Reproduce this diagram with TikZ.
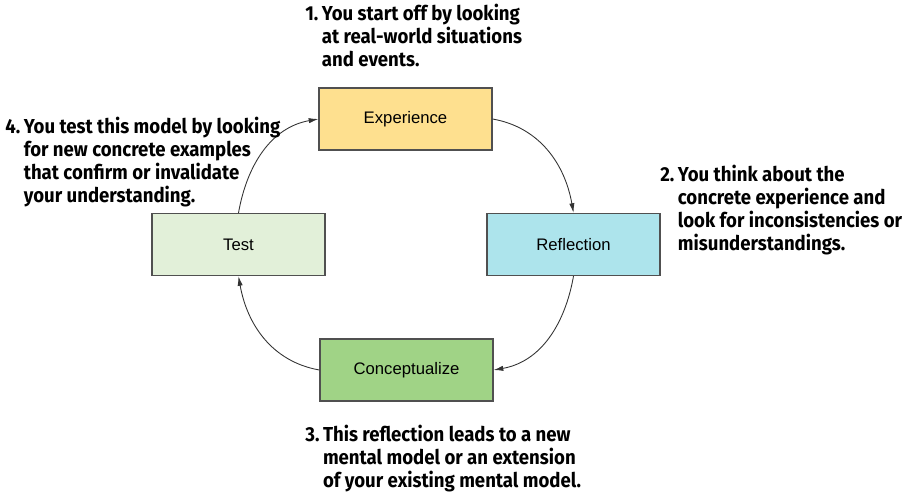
\documentclass[tikz,border=0pt]{standalone}
\usepackage{fontspec}
\setmainfont{Liberation Sans}
\newfontfamily\notefont[FakeStretch=0.92]{Fira Sans}
\usepackage{xcolor}
\usetikzlibrary{arrows.meta}

\definecolor{expfill}{HTML}{FEE08F}
\definecolor{reffill}{HTML}{ADE4EC}
\definecolor{testfill}{HTML}{E2F0D9}
\definecolor{confill}{HTML}{A0D386}
\definecolor{boxline}{HTML}{505050}

\begin{document}
\begin{tikzpicture}
			\tikzstyle{stage} = [draw=boxline, line width=0.7pt, minimum width=3.46cm, minimum height=1.24cm, font=\fontsize{9.5}{11}\selectfont]
			\tikzstyle{note} = [anchor=base west, inner sep=0pt, font=\notefont\bfseries\fontsize{11.5}{12.8}\selectfont]
			\tikzset{edge/.style = {->, > = {Latex[length=5.5pt, width=3pt]}, line width=0.5pt, draw=black!80}}
			
			\useasboundingbox (0,0) rectangle (18.1,-9.92);
			
			\node[stage, fill=expfill](experience) at (8.11,-2.38) {Experience};
			\node[stage, fill=reffill](reflection) at (11.47,-4.89) {Reflection};
			\node[stage, fill=confill](conceptualize) at (8.13,-7.40) {Conceptualize};
			\node[stage, fill=testfill](test) at (4.77,-4.89) {Test};
			
			\draw[edge](experience.east) to[out=-10, in=100] (reflection.north);
			\draw[edge](reflection.south) to[out=-100, in=10] (conceptualize.east);
			\draw[edge](conceptualize.west) to[out=170, in=-80] (test.south);
			\draw[edge](test.north) to[out=80, in=190] (experience.west);
			
			\node[note](note1) at (6.10,-0.414) {\begin{tabular}[t]{@{}l@{\hspace{2pt}}l@{}}
				1.& You start off by looking\\
				& at real-world situations\\
				& and events.
			\end{tabular}};
			\node[note](note2) at (13.2,-3.63) {\begin{tabular}[t]{@{}l@{\hspace{2pt}}l@{}}
				2.& You think about the\\
				& concrete experience and\\
				& look for inconsistencies or\\
				& misunderstandings.
			\end{tabular}};
			\node[note](note3) at (6.10,-8.83) {\begin{tabular}[t]{@{}l@{\hspace{2pt}}l@{}}
				3.& This reflection leads to a new\\
				& mental model or an extension\\
				& of your existing mental model.
			\end{tabular}};
			\node[note](note4) at (0.10,-2.67) {\begin{tabular}[t]{@{}l@{\hspace{2pt}}l@{}}
				4.& You test this model by looking\\
				& for new concrete examples\\
				& that confirm or invalidate\\
				& your understanding.
			\end{tabular}};
			
\end{tikzpicture}
\end{document}
